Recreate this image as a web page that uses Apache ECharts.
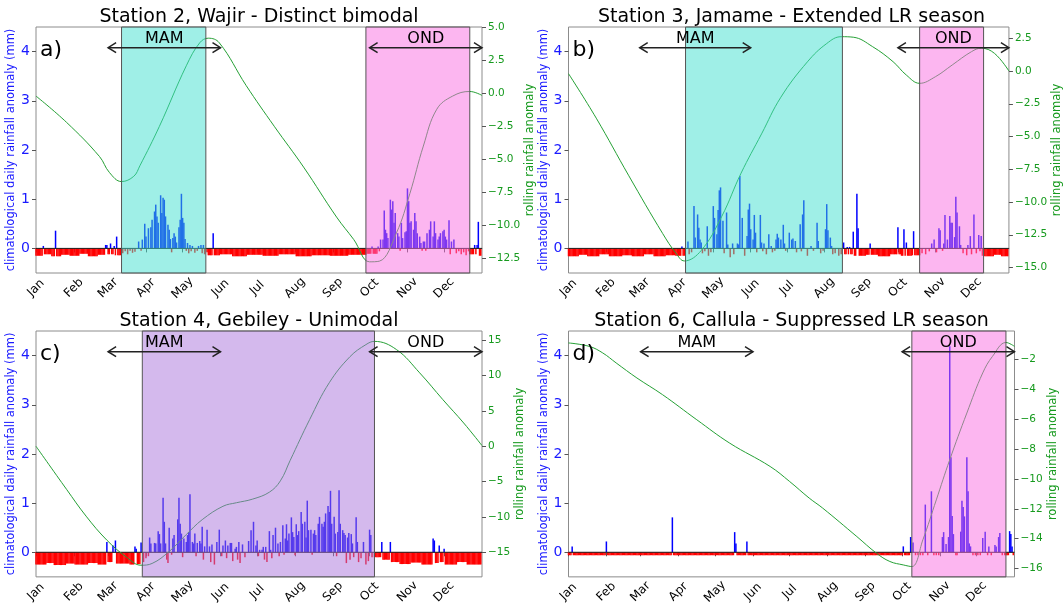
<!DOCTYPE html>
<html>
<head>
<meta charset="utf-8">
<script src="https://cdn.jsdelivr.net/npm/echarts@6/dist/echarts.min.js"></script>
<style>
    html, body { margin: 0; background: #fff; }
    #chart { width: 1064px; height: 607px; }
</style>
</head>
<body>
<div id="chart"></div>
<script>
// x axis: day of year
var months = ['Jan', 'Feb', 'Mar', 'Apr', 'May', 'Jun', 'Jul', 'Aug', 'Sep', 'Oct', 'Nov', 'Dec'];
var monthStarts = [0, 31, 59, 90, 120, 151, 181, 212, 243, 273, 304, 334];
var leftTicks = [0, 1, 2, 3, 4];

// MAM / OND reference arrows [fromDay, toDay, label]
var seasonArrows = [[59, 151, 'MAM'], [273, 365, 'OND']];
var arrowLevel = 4.08;

// ---- Station 2, Wajir ----
var titleA = 'Station 2, Wajir - Distinct bimodal';
// single days [day, anomaly]
var spikesA = [[6, 0.05], [16, 0.36], [57, 0.07], [58, 0.07], [61, 0.1], [64, 0.05], [66, 0.24],
    [71, -0.1], [73, -0.06], [75, -0.12], [77, -0.05], [79, -0.09], [81, -0.07], [84, 0.14], [86, -0.05],
    [87, 0.18], [89, 0.5], [90, 0.24], [92, 0.41], [94, 0.43], [95, 0.58], [97, 0.75], [98, 0.89], [99, 0.65],
    [100, 0.52], [102, 1.08], [103, 0.72], [104, 1.03], [105, 0.99], [106, 0.65], [108, 0.48], [109, 0.38],
    [110, 0.19], [111, -0.08], [112, 0.21], [113, 0.31], [114, 0.24], [115, 0.12], [117, 0.43], [118, 0.58],
    [119, 1.11], [120, 0.62], [121, 0.52], [122, 0.19], [123, -0.05], [124, 0.11], [125, -0.1], [126, 0.07],
    [127, -0.06], [128, 0.05], [130, -0.09], [132, -0.05], [133, 0.05], [135, 0.07], [136, -0.1], [137, 0.07],
    [138, -0.12], [140, -0.08], [145, 0.31],
    [275, 0.04], [280, 0.04], [281, -0.06], [282, 0.18], [284, 0.18], [285, 0.77], [286, 0.38], [287, 0.31],
    [288, 0.21], [290, 0.99], [291, 0.79], [292, 0.96], [293, 0.52], [294, 0.72], [296, 0.31], [297, 0.24],
    [298, -0.05], [299, 0.52], [300, 0.21], [302, 0.33], [303, 0.35], [304, 1.22], [305, 0.96], [306, 0.52],
    [307, 0.55], [309, 0.38], [310, 0.72], [311, 0.55], [312, 0.31], [314, 0.24], [315, 0.11], [316, -0.05],
    [317, 0.14], [318, 0.14], [319, -0.05], [320, 0.31], [322, 0.38], [323, 0.55], [325, 0.24], [326, 0.55],
    [327, 0.31], [329, 0.18], [330, 0.24], [331, 0.31], [333, 0.35], [334, 0.38], [335, 0.24], [336, 0.18],
    [338, 0.57], [339, -0.12], [340, 0.14], [342, 0.18], [344, -0.1], [346, -0.06], [348, -0.12], [350, -0.08],
    [352, -0.14], [354, -0.06], [359, 0.07], [361, 0.07], [362, 0.54]];
// dry spells [fromDay, toDay, anomaly]
var runsA = [[0, 6, -0.15], [7, 12, -0.12], [13, 20, -0.16], [21, 27, -0.13], [28, 35, -0.15], [36, 42, -0.11],
    [43, 50, -0.16], [51, 57, -0.13], [58, 64, -0.12], [65, 69, -0.14],
    [141, 150, -0.14], [151, 160, -0.12], [161, 172, -0.16], [173, 185, -0.13], [186, 198, -0.15],
    [199, 212, -0.12], [213, 225, -0.16], [226, 240, -0.14], [241, 255, -0.15], [256, 270, -0.13],
    [271, 279, -0.11], [355, 360, -0.12], [363, 364, -0.15]];
var rollA = [[0, -0.2], [25, -2.2], [52, -4.8], [60, -6.0], [70, -6.7], [80, -6.3], [85, -5.5], [101, -2.5],
    [123, 2.1], [134, 3.85], [141, 4.2], [150, 3.85], [172, 0.6], [195, -2.5], [219, -5.6], [246, -9.4],
    [260, -11.1], [273, -12.8], [281, -12.75], [295, -10.6], [306, -7.6], [317, -4.0], [328, -1.2], [341, -0.2],
    [355, 0.15], [365, -0.15]];
var seasonsA = [[70, 139, 'cyan'], [270, 355, 'pink']];
var rightTicksA = [-12.5, -10, -7.5, -5, -2.5, 0, 2.5, 5];
var rightRangeA = [-13.65, 5.05];

// ---- Station 3, Jamame ----
var titleB = 'Station 3, Jamame - Extended LR season';
var spikesB = [[94, 0.04], [99, 0.14], [100, -0.12], [102, -0.08], [104, 0.86], [105, 0.22], [107, 0.69],
    [108, 0.42], [109, 0.18], [110, 0.12], [111, -0.1], [113, -0.06], [115, 0.45], [116, -0.15], [118, -0.08],
    [120, 0.86], [121, 0.62], [123, 0.29], [124, 0.78], [125, 1.18], [126, 1.24], [128, 0.56], [129, -0.1],
    [131, 0.73], [132, 0.08], [134, -0.18], [136, 0.1], [137, -0.12], [140, 0.1], [141, 0.08], [142, 1.47],
    [144, 0.62], [146, -0.15], [148, 0.25], [149, 0.79], [150, 0.91], [151, 0.39], [153, 0.18], [154, 0.68],
    [155, 0.32], [156, -0.08], [159, 0.68], [160, 0.12], [161, -0.06], [162, 0.1], [164, -0.12], [166, 0.29],
    [168, 0.05], [169, -0.08], [171, -0.05], [172, 0.18], [173, 0.3], [174, 0.22], [176, 0.18], [178, 0.48],
    [179, 0.1], [180, -0.05], [183, 0.32], [185, 0.18], [186, 0.2], [188, 0.15], [189, -0.08], [192, 0.49],
    [193, -0.06], [194, 0.69], [195, 0.98], [198, -0.15], [201, 0.05], [203, -0.05], [206, 0.52], [207, 0.15],
    [209, -0.1], [211, -0.05], [213, 0.39], [214, 0.9], [215, 0.37], [217, 0.22], [218, 0.05], [219, -0.12],
    [221, -0.1], [224, -0.15], [226, -0.12], [228, 0.12], [231, 0.03], [233, 0.03], [236, 0.34], [239, 1.11],
    [240, 0.41], [250, 0.1], [273, 0.43], [278, 0.39], [280, 0.12], [286, 0.35],
    [293, -0.1], [296, -0.12], [299, -0.06], [301, 0.1], [303, 0.18], [305, -0.08], [307, 0.41], [308, 0.37],
    [310, -0.05], [311, 0.1], [312, 0.68], [314, 0.18], [316, 0.66], [317, 0.52], [318, 0.52], [320, 0.23],
    [321, 1.05], [322, 0.73], [324, 0.45], [325, 0.07], [327, -0.1], [330, -0.14], [331, 0.07], [333, 0.25],
    [334, -0.12], [336, 0.69], [338, -0.1], [340, 0.27], [341, -0.06], [342, 0.25], [343, -0.15]];
var runsB = [[0, 8, -0.16], [9, 15, -0.13], [16, 25, -0.16], [26, 33, -0.12], [34, 44, -0.16], [45, 52, -0.14],
    [53, 62, -0.16], [63, 70, -0.12], [71, 80, -0.16], [81, 88, -0.14], [89, 96, -0.15],
    [228, 236, -0.12], [237, 246, -0.15], [247, 256, -0.13], [257, 266, -0.16], [267, 275, -0.12],
    [276, 284, -0.15], [285, 291, -0.14], [345, 352, -0.16], [353, 358, -0.13], [359, 364, -0.16]];
var rollB = [[0, -0.2], [23, -3.6], [50, -8.0], [78, -12.4], [89, -13.9], [96, -14.5], [110, -13.7],
    [127, -11.1], [143, -7.8], [160, -4.8], [176, -2.0], [198, 0.7], [214, 2.1], [226, 2.62], [236, 2.58],
    [252, 1.86], [269, 0.71], [280, -0.31], [291, -0.94], [304, -0.44], [318, 0.46], [334, 1.48], [342, 1.74],
    [353, 1.35], [365, 0.0]];
var seasonsB = [[97, 227, 'cyan'], [291, 344, 'pink']];
var rightTicksB = [-15, -12.5, -10, -7.5, -5, -2.5, 0, 2.5];
var rightRangeB = [-15.42, 3.36];

// ---- Station 4, Gebiley ----
var titleC = 'Station 4, Gebiley - Unimodal';
var spikesC = [[58, 0.21], [63, 0.14], [65, 0.24], [81, 0.12], [82, 0.07], [86, 0.2], [88, -0.2], [90, -0.12],
    [92, -0.08], [93, 0.3], [94, 0.18], [97, 0.19], [98, 0.18], [100, 0.43], [101, 0.37], [102, 0.18],
    [104, 1.11], [105, 0.62], [106, 0.18], [107, -0.15], [108, -0.22], [109, 0.5], [111, -0.05], [112, 0.28],
    [113, 0.35], [116, 0.67], [117, 1.11], [118, 0.58], [119, 0.38], [120, -0.1], [121, 0.28], [123, 0.21],
    [124, 0.35], [125, 0.41], [126, 1.18], [128, 0.21], [129, 0.18], [130, 0.38], [131, -0.08], [132, 0.19],
    [134, 0.23], [135, 0.18], [136, 0.52], [137, -0.15], [138, 0.12], [140, 0.46], [142, 0.12], [143, -0.2],
    [144, 0.16], [146, -0.25], [148, 0.21], [150, 0.46], [152, -0.08], [153, 0.14], [155, 0.24], [156, -0.12],
    [157, 0.14], [159, 0.19], [160, 0.19], [161, -0.18], [163, 0.07], [164, 0.11], [165, -0.15], [166, 0.21],
    [167, -0.22], [169, 0.16], [171, -0.1], [174, 0.23], [176, 0.45], [178, 0.62], [180, 0.14], [181, 0.24],
    [182, -0.08], [183, 0.05], [185, 0.05], [186, 0.11], [187, -0.15], [188, 0.11], [189, -0.2], [191, 0.43],
    [192, 0.05], [193, -0.12], [194, 0.35], [196, 0.5], [198, 0.18], [199, -0.08], [200, 0.21], [202, 0.55],
    [203, -0.05], [204, 0.28], [205, 0.57], [206, 0.24], [207, 0.38], [209, 0.71], [210, 0.41], [211, 0.31],
    [212, -0.06], [213, 0.57], [214, 0.35], [215, 0.43], [217, 0.82], [218, 0.58], [220, 0.62], [221, 0.3],
    [222, 1.05], [223, 0.45], [225, 0.46], [226, -0.05], [227, 0.38], [228, 0.45], [229, 0.35], [231, 0.58],
    [232, 0.72], [234, 0.58], [235, 0.52], [236, 0.62], [237, 0.79], [239, 0.94], [240, 0.82], [241, 1.25],
    [242, 0.58], [244, 0.72], [245, 0.38], [246, -0.08], [247, 0.41], [248, 1.26], [249, 0.58], [251, 0.45],
    [252, 0.39], [253, 0.35], [254, -0.22], [255, 0.3], [256, 0.39], [257, -0.15], [258, 0.37], [259, 0.18],
    [260, -0.1], [262, 0.71], [263, 0.21], [264, -0.2], [266, -0.12], [268, 0.21], [270, -0.25], [272, -0.18],
    [273, 0.46], [274, 0.35], [275, -0.1], [283, 0.21], [290, 0.21], [325, 0.28], [326, 0.24], [330, 0.14],
    [334, 0.07]];
var runsC = [[0, 8, -0.25], [9, 14, -0.22], [15, 24, -0.26], [25, 31, -0.23], [32, 42, -0.25], [43, 50, -0.22],
    [51, 57, -0.25], [59, 62, -0.2], [66, 76, -0.23], [77, 80, -0.25], [83, 85, -0.24],
    [277, 282, -0.1], [284, 289, -0.15], [291, 297, -0.2], [298, 306, -0.24], [307, 315, -0.21],
    [316, 324, -0.25], [327, 329, -0.22], [331, 333, -0.2], [335, 344, -0.25], [345, 352, -0.2], [353, 364, -0.25]];
var rollC = [[0, 0], [25, -6.1], [41, -9.9], [58, -13.3], [74, -15.7], [86, -16.85], [95, -16.6], [109, -14.9],
    [123, -12.5], [136, -10.4], [153, -8.5], [164, -8.0], [177, -7.5], [191, -6.5], [200, -4.9], [208, -2.0],
    [224, 3.8], [240, 9.0], [257, 12.7], [270, 14.4], [277, 14.86], [295, 13.7], [314, 10.4], [333, 6.6],
    [350, 3.3], [365, 0.1]];
var seasonsC = [[87, 277, 'purple']];
var rightTicksC = [-15, -10, -5, 0, 5, 10, 15];
var rightRangeC = [-18.5, 16.33];

// ---- Station 6, Callula ----
var titleD = 'Station 6, Callula - Suppressed LR season';
var spikesD = [[3, 0.12], [31, 0.22], [85, 0.71], [136, 0.41], [137, 0.18], [146, 0.22], [274, 0.12],
    [280, 0.31], [282, 0.2], [284, -0.06], [286, -0.06], [288, -0.06], [290, -0.06], [292, 0.97], [294, -0.06],
    [297, 1.24], [299, -0.06], [301, -0.06], [303, -0.06], [306, 0.31], [307, 0.41], [309, 0.17], [311, 0.31],
    [312, 4.19], [313, 1.93], [314, 0.74], [315, 0.37], [317, -0.06], [318, -0.06], [321, 0.42], [322, 1.05],
    [323, 0.92], [324, 0.73], [326, 1.93], [327, 1.24], [328, 0.18], [329, 0.12], [331, -0.06], [333, -0.06],
    [335, -0.06], [337, -0.06], [339, 0.29], [341, 0.42], [343, -0.06], [344, 0.12], [346, -0.06], [349, 0.15],
    [350, 0.12], [352, 0.31], [353, 0.39], [355, -0.06], [357, -0.06], [361, 0.43], [362, 0.37], [363, 0.12]];
var runsD = [[0, 280, -0.06], [358, 364, -0.06]];
var rollD = [[0, -0.88], [17, -1.11], [28, -1.55], [39, -2.22], [56, -3.23], [77, -4.35], [105, -6.03],
    [132, -7.6], [165, -9.16], [181, -10.17], [197, -11.28], [208, -11.95], [236, -13.86], [252, -14.97],
    [263, -15.53], [274, -15.76], [281, -15.87], [290, -14.08], [301, -11.4], [312, -8.71], [326, -5.58],
    [339, -2.89], [347, -1.78], [358, -0.85], [365, -1.11]];
var seasonsD = [[281, 358, 'pink']];
var rightTicksD = [-16, -14, -12, -10, -8, -6, -4, -2];
var rightRangeD = [-16.56, -0.08];

// ---- styles ----
var BLUE = '#1a1aff';
var GREEN = '#169a1e';
var FRAME = '#8c8c8c';
var shadeColors = {
    cyan: 'rgba(64,224,208,0.5)',
    pink: 'rgba(250,110,225,0.5)',
    purple: 'rgba(170,115,220,0.5)'
};

var panels = [
    {title: titleA, letter: 'a)', spikes: spikesA, runs: runsA, roll: rollA, seasons: seasonsA,
        ticks: rightTicksA, range: rightRangeA, dec: 1, nameGap: 41,
        grid: {left: 36, top: 27, width: 446, height: 246}},
    {title: titleB, letter: 'b)', spikes: spikesB, runs: runsB, roll: rollB, seasons: seasonsB,
        ticks: rightTicksB, range: rightRangeB, dec: 1, nameGap: 42,
        grid: {left: 568.5, top: 27, width: 446, height: 246}},
    {title: titleC, letter: 'c)', spikes: spikesC, runs: runsC, roll: rollC, seasons: seasonsC,
        ticks: rightTicksC, range: rightRangeC, dec: 0, nameGap: 32,
        grid: {left: 36, top: 331, width: 446, height: 246}},
    {title: titleD, letter: 'd)', spikes: spikesD, runs: runsD, roll: rollD, seasons: seasonsD,
        ticks: rightTicksD, range: rightRangeD, dec: 0, nameGap: 33,
        grid: {left: 568.5, top: 331, width: 446, height: 246}}
];

function dailyBars(runs, spikes) {
    var vals = [];
    for (var d = 0; d < 365; d++) {
        vals.push(0);
    }
    runs.forEach(function (r) {
        for (var d = r[0]; d <= r[1]; d++) {
            vals[d] = r[2];
        }
    });
    spikes.forEach(function (s) {
        vals[s[0]] = s[1];
    });
    var out = [];
    vals.forEach(function (v, d) {
        if (v !== 0) {
            out.push([d, v]);
        }
    });
    return out;
}

function fmtRight(dec) {
    return function (v) {
        return v.toFixed(dec).replace('-', '\u2212');
    };
}

function shadeRenderer(seasons) {
    return function (params, api) {
        var cs = params.coordSys;
        var x0 = api.coord([api.value(0), 0])[0];
        var x1 = api.coord([api.value(1), 0])[0];
        return {
            type: 'rect',
            shape: {x: x0, y: cs.y, width: x1 - x0, height: cs.height},
            style: {fill: shadeColors[seasons[params.dataIndex][2]], stroke: '#555', lineWidth: 1}
        };
    };
}

function arrowRenderer(params, api) {
    var p0 = api.coord([api.value(0), api.value(2)]);
    var p1 = api.coord([api.value(1), api.value(2)]);
    var y = p0[1];
    var h = 5, l = 8;
    var st = {stroke: '#222', lineWidth: 1.5, fill: null};
    return {
        type: 'group',
        children: [
            {type: 'line', shape: {x1: p0[0], y1: y, x2: p1[0], y2: y}, style: st},
            {type: 'polyline', shape: {points: [[p0[0] + l, y - h], [p0[0], y], [p0[0] + l, y + h]]}, style: st},
            {type: 'polyline', shape: {points: [[p1[0] - l, y - h], [p1[0], y], [p1[0] - l, y + h]]}, style: st},
            {
                type: 'text', x: (p0[0] + p1[0]) / 2, y: y - 1,
                style: {
                    text: seasonArrows[params.dataIndex][2], fill: '#000',
                    font: '16px "DejaVu Sans"', align: 'center', verticalAlign: 'bottom'
                }
            }
        ]
    };
}

var option = {
    animation: false,
    textStyle: {fontFamily: 'DejaVu Sans'},
    title: [],
    grid: [],
    xAxis: [],
    yAxis: [],
    series: []
};

panels.forEach(function (p, i) {
    var g = p.grid;
    option.grid.push({left: g.left, top: g.top, width: g.width, height: g.height,
        show: true, borderColor: FRAME, borderWidth: 1, backgroundColor: '#fff'});

    option.title.push({
        text: p.title, left: g.left + g.width / 2, top: g.top - 19, textAlign: 'center', padding: 0,
        textStyle: {fontSize: 19, fontWeight: 'normal', color: '#000', fontFamily: 'DejaVu Sans'}
    });
    option.title.push({
        text: p.letter, left: g.left + 4, top: g.top + 12, padding: 0,
        textStyle: {fontSize: 22, fontWeight: 'normal', color: '#000', fontFamily: 'DejaVu Sans'}
    });

    option.xAxis.push({
        gridIndex: i, type: 'value', min: 0, max: 365,
        axisLine: {show: true, lineStyle: {color: FRAME}},
        axisTick: {show: true, customValues: monthStarts, length: 4, lineStyle: {color: '#555'}},
        axisLabel: {
            customValues: monthStarts, rotate: 45, fontSize: 12, color: '#000', margin: 15,
            align: 'center', verticalAlign: 'middle',
            formatter: function (v) {
                return months[monthStarts.indexOf(v)];
            }
        },
        splitLine: {show: false}
    });

    option.yAxis.push({
        gridIndex: i, type: 'value', position: 'left', min: -0.5, max: 4.5,
        axisLine: {show: false},
        axisTick: {show: true, customValues: leftTicks, length: 4, lineStyle: {color: '#555'}},
        axisLabel: {customValues: leftTicks, fontSize: 14, color: BLUE, margin: 6},
        splitLine: {show: false},
        name: 'climatological daily rainfall anomaly (mm)', nameLocation: 'middle', nameGap: 14, nameRotate: 90,
        nameTextStyle: {color: BLUE, fontSize: 11.5}
    });
    option.yAxis.push({
        gridIndex: i, type: 'value', position: 'right', min: p.range[0], max: p.range[1],
        axisLine: {show: false},
        axisTick: {show: true, customValues: p.ticks, length: 4, lineStyle: {color: '#555'}},
        axisLabel: {customValues: p.ticks, fontSize: 10.5, color: GREEN, margin: 6, formatter: fmtRight(p.dec)},
        splitLine: {show: false},
        name: 'rolling rainfall anomaly', nameLocation: 'middle', nameGap: p.nameGap, nameRotate: 90,
        nameTextStyle: {color: GREEN, fontSize: 11.5}
    });

    option.series.push({
        type: 'bar', xAxisIndex: i, yAxisIndex: 2 * i, barWidth: 1.5, z: 2, silent: true,
        data: dailyBars(p.runs, p.spikes),
        itemStyle: {
            color: function (prm) {
                return prm.value[1] >= 0 ? '#0000ff' : '#ff0000';
            }
        }
    });
    option.series.push({
        type: 'line', xAxisIndex: i, yAxisIndex: 2 * i, z: 3, silent: true, symbol: 'none',
        data: [[0, 0], [365, 0]],
        lineStyle: {color: '#222', width: 1}
    });
    option.series.push({
        type: 'line', xAxisIndex: i, yAxisIndex: 2 * i + 1, z: 3, silent: true, symbol: 'none',
        smooth: 0.4, data: p.roll,
        lineStyle: {color: '#25a035', width: 1}
    });
    option.series.push({
        type: 'custom', xAxisIndex: i, yAxisIndex: 2 * i, z: 5, silent: true,
        data: p.seasons.map(function (s) { return [s[0], s[1]]; }),
        renderItem: shadeRenderer(p.seasons)
    });
    option.series.push({
        type: 'custom', xAxisIndex: i, yAxisIndex: 2 * i, z: 6, silent: true,
        data: seasonArrows.map(function (a) { return [a[0], a[1], arrowLevel]; }),
        renderItem: arrowRenderer
    });
});

var chart = echarts.init(document.getElementById('chart'));
chart.setOption(option);
</script>
</body>
</html>
